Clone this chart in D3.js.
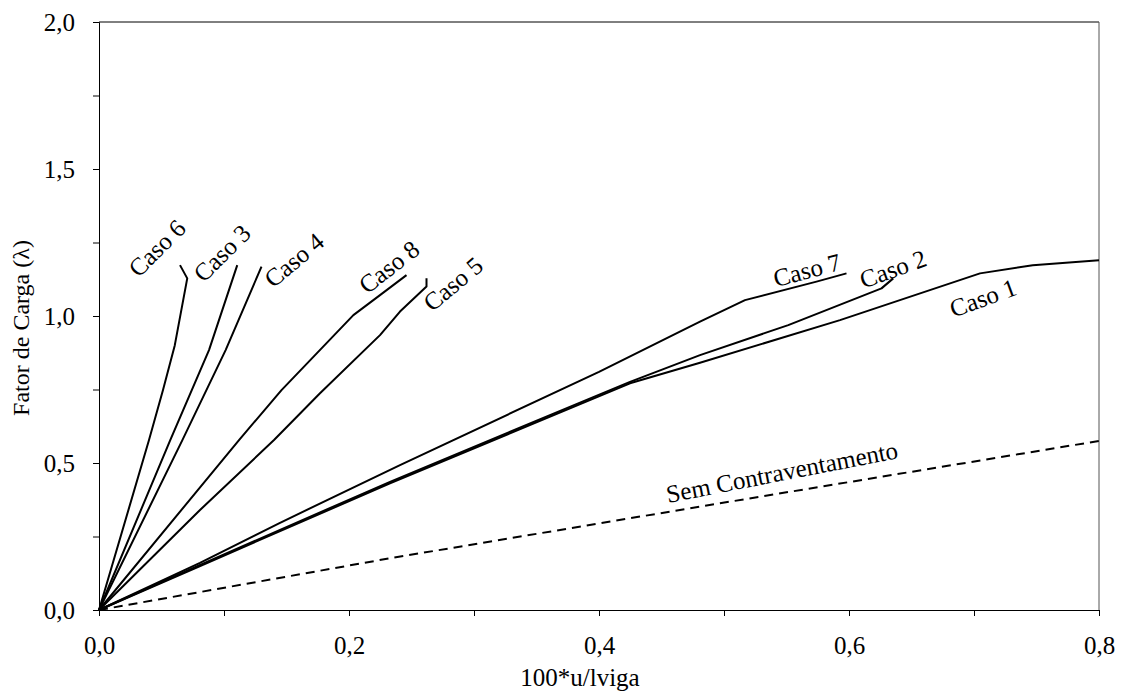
<!DOCTYPE html>
<html>
<head>
<meta charset="utf-8">
<script src="https://cdn.jsdelivr.net/npm/d3@7"></script>
<style>
  body { margin: 0; background: #fff; }
  text { font-family: "Liberation Serif", "Times New Roman", serif; }
</style>
</head>
<body>
<div id="chart"></div>
<script>
// Curves: [100*u/lviga, fator de carga]
const caso1 = [[0, 0], [0.08, 0.148], [0.2328, 0.431], [0.4248, 0.771], [0.4808, 0.841],
               [0.5928, 0.986], [0.7048, 1.145], [0.747, 1.173], [0.8, 1.19]];
const caso2 = [[0, 0], [0.08, 0.152], [0.2328, 0.436], [0.4248, 0.776], [0.4808, 0.867],
               [0.5514, 0.969], [0.626, 1.094], [0.6354, 1.128]];
const caso3 = [[0, 0], [0.057, 0.578], [0.088, 0.884], [0.1106, 1.173]];
const caso4 = [[0, 0], [0.0667, 0.578], [0.1013, 0.884], [0.13, 1.168]];
const caso5 = [[0, 0], [0.0808, 0.34], [0.14, 0.578], [0.1768, 0.737], [0.2248, 0.935],
               [0.2408, 1.015], [0.262, 1.1], [0.262, 1.128]];
const caso6 = [[0, 0], [0.04, 0.578], [0.0512, 0.748], [0.0606, 0.9], [0.0706, 1.128], [0.0648, 1.173]];
const caso7 = [[0, 0], [0.0808, 0.16], [0.144, 0.295], [0.2408, 0.493], [0.4, 0.81], [0.4808, 0.981],
               [0.5168, 1.054], [0.574, 1.117], [0.598, 1.145]];
const caso8 = [[0, 0], [0.112, 0.578], [0.146, 0.748], [0.2035, 1.003], [0.2248, 1.071], [0.246, 1.139]];
const semContraventamento = [[0, 0], [0.2328, 0.176], [0.4968, 0.363], [0.8, 0.575]];

const xTicks = [0, 0.2, 0.4, 0.6, 0.8];
const xMinor = [0.1, 0.3, 0.5, 0.7];
const yTicks = [0, 0.5, 1.0, 1.5, 2.0];
const yMinor = [0.25, 0.75, 1.25, 1.75];

// Labels: text, centre in data units, rotation
const labels = [
  ["Caso 6", 0.0464, 1.231, -45],
  ["Caso 3", 0.0984, 1.214, -45],
  ["Caso 4", 0.156, 1.190, -40],
  ["Caso 8", 0.232, 1.167, -38],
  ["Caso 5", 0.2832, 1.109, -40],
  ["Caso 7", 0.5664, 1.156, -15],
  ["Caso 2", 0.6352, 1.160, -20],
  ["Caso 1", 0.7072, 1.061, -20],
  ["Sem Contraventamento", 0.5464, 0.469, -11]
];

const width = 1123, height = 693;
const margin = {top: 22, right: 24, bottom: 83, left: 99};

const svg = d3.select("#chart")
  .append("svg")
  .attr("width", width)
  .attr("height", height);

const x = d3.scaleLinear()
  .domain([0, 0.8])
  .range([margin.left, width - margin.right]);

const y = d3.scaleLinear()
  .domain([0, 2])
  .range([height - margin.bottom, margin.top]);

const fmt = d3.format(".1f");
const comma = d => fmt(d).replace(".", ",");

// frame (top and right)
svg.append("line")
  .attr("x1", x(0)).attr("x2", x(0.8))
  .attr("y1", y(2)).attr("y2", y(2))
  .attr("stroke", "#000").attr("stroke-width", 1);
svg.append("line")
  .attr("x1", x(0.8)).attr("x2", x(0.8))
  .attr("y1", y(0)).attr("y2", y(2))
  .attr("stroke", "#555").attr("stroke-width", 1);

// x axis
svg.append("g")
  .attr("transform", `translate(0,${y(0)})`)
  .call(d3.axisBottom(x).tickValues(xTicks).tickFormat(comma).tickSize(6).tickPadding(20));
svg.append("g")
  .attr("transform", `translate(0,${y(0)})`)
  .call(d3.axisBottom(x).tickValues(xMinor).tickFormat("").tickSize(6))
  .select(".domain").remove();

// y axis
svg.append("g")
  .attr("transform", `translate(${x(0)},0)`)
  .call(d3.axisLeft(y).tickValues(yTicks).tickFormat(comma).tickSize(6).tickPadding(18));
svg.append("g")
  .attr("transform", `translate(${x(0)},0)`)
  .call(d3.axisLeft(y).tickValues(yMinor).tickFormat("").tickSize(6))
  .select(".domain").remove();

svg.selectAll(".tick text")
  .style("font-family", "Liberation Serif, serif")
  .style("font-size", "25px")
  .attr("fill", "#000");
svg.selectAll(".domain, .tick line").attr("stroke", "#000");

// curves
const line = d3.line()
  .x(d => x(d[0]))
  .y(d => y(d[1]));

const solid = [caso1, caso2, caso3, caso4, caso5, caso6, caso7, caso8];
svg.append("g")
  .selectAll("path")
  .data(solid)
  .enter()
  .append("path")
  .attr("d", line)
  .attr("fill", "none")
  .attr("stroke", "#000")
  .attr("stroke-width", 2)
  .attr("stroke-linejoin", "round");

svg.append("path")
  .datum(semContraventamento)
  .attr("d", line)
  .attr("fill", "none")
  .attr("stroke", "#000")
  .attr("stroke-width", 2)
  .attr("stroke-dasharray", "9,6");

// curve labels
svg.append("g")
  .selectAll("text")
  .data(labels)
  .enter()
  .append("text")
  .attr("transform", d => `translate(${x(d[1])},${y(d[2])}) rotate(${d[3]})`)
  .attr("text-anchor", "middle")
  .attr("dominant-baseline", "central")
  .style("font-size", "25px")
  .text(d => d[0]);

// axis titles
svg.append("text")
  .attr("x", 580)
  .attr("y", 686)
  .attr("text-anchor", "middle")
  .style("font-size", "25px")
  .text("100*u/lviga");

svg.append("text")
  .attr("transform", `translate(29,328) rotate(-90)`)
  .attr("text-anchor", "middle")
  .style("font-size", "24px")
  .text("Fator de Carga (λ)");
</script>
</body>
</html>
